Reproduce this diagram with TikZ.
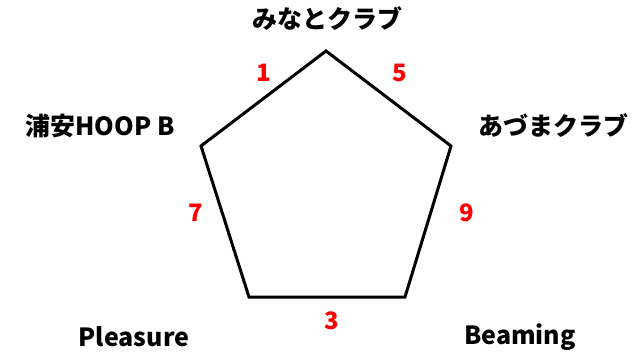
\documentclass[tikz,border=0pt]{standalone}
\usepackage{fontspec}
\setmainfont{Noto Sans CJK JP}
\usepackage{tikz}
\usetikzlibrary{positioning}
\usepackage{xcolor}
\definecolor{scorered}{RGB}{255, 0, 0}
\tikzset{
    teamlabel/.style={font=\fontsize{25}{27}\selectfont\bfseries, inner sep=0pt, anchor=center},
    scorelabel/.style={font=\fontsize{24}{26}\selectfont\bfseries, text=scorered, inner sep=0pt, anchor=center},
    pentaline/.style={line width=3pt, line join=miter, draw=black}
}
\begin{document}
\begin{tikzpicture}[x=1pt, y=-1pt]
            \useasboundingbox (0,0) rectangle (633,359);
            % vertices
            \coordinate (vtop) at (326,51);
            \coordinate (vright) at (451,146);
            \coordinate (vbr) at (405,297);
            \coordinate (vbl) at (249,297);
            \coordinate (vleft) at (201,146);

            \draw[pentaline] (vtop) -- (vright) -- (vbr) -- (vbl) -- (vleft) -- cycle;

            % team names
            \node[teamlabel] (minato) at (327,19) {みなとクラブ};
            \node[teamlabel] (urayasu) at (100,126) {浦安HOOP B};
            \node[teamlabel] (azuma) at (553,126) {あづまクラブ};
            \node[teamlabel] (pleasure) at (134,337) {Pleasure};
            \node[teamlabel] (beaming) at (520,337) {Beaming};

            % scores
            \node[scorelabel] (s1) at (264,73) {1};
            \node[scorelabel] (s5) at (400,73) {5};
            \node[scorelabel] (s7) at (196,213) {7};
            \node[scorelabel] (s9) at (467,213) {9};
            \node[scorelabel] (s3) at (332,321) {3};
        \end{tikzpicture}
\end{document}
